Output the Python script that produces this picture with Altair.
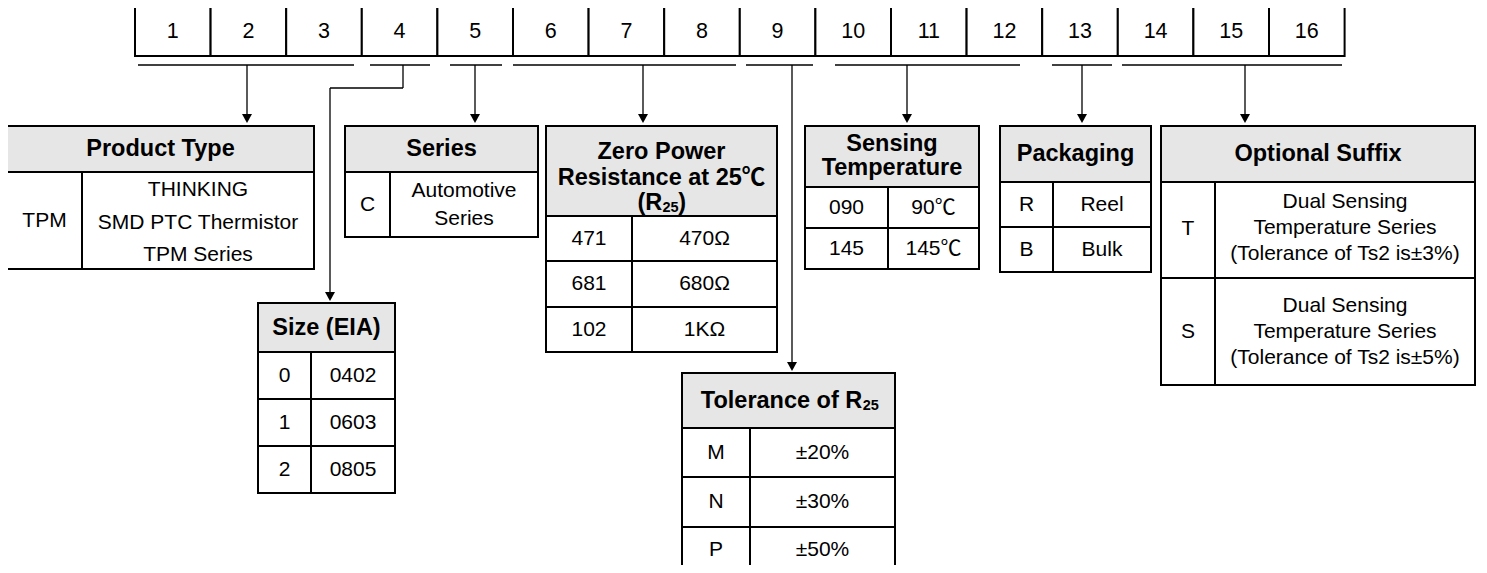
import altair as alt
import pandas as pd

# ---------------- content ----------------
DIGITS = [str(i) for i in range(1, 17)]

PRODUCT_TYPE_TITLE = ["Product Type"]
PRODUCT_TYPE_CODES = ["TPM"]
PRODUCT_TYPE_VALUES = [["THINKING", "SMD PTC Thermistor", "TPM Series"]]

SERIES_TITLE = ["Series"]
SERIES_CODES = ["C"]
SERIES_VALUES = [["Automotive", "Series"]]

SIZE_TITLE = ["Size (EIA)"]
SIZE_CODES = ["0", "1", "2"]
SIZE_VALUES = [["0402"], ["0603"], ["0805"]]

R25_TITLE = ["Zero Power", "Resistance at 25℃"]
R25_TITLE_SUB = ["(R", "25", ")"]
R25_CODES = ["471", "681", "102"]
R25_VALUES = [["470Ω"], ["680Ω"], ["1KΩ"]]

TOL_TITLE_SUB = ["Tolerance of R", "25"]
TOL_CODES = ["M", "N", "P"]
TOL_VALUES = [["±20%"], ["±30%"], ["±50%"]]

TEMP_TITLE = ["Sensing", "Temperature"]
TEMP_CODES = ["090", "145"]
TEMP_VALUES = [["90℃"], ["145℃"]]

PACK_TITLE = ["Packaging"]
PACK_CODES = ["R", "B"]
PACK_VALUES = [["Reel"], ["Bulk"]]

SUFFIX_TITLE = ["Optional Suffix"]
SUFFIX_CODES = ["T", "S"]
SUFFIX_VALUES = [
    ["Dual Sensing", "Temperature Series", "(Tolerance of Ts2 is±3%)"],
    ["Dual Sensing", "Temperature Series", "(Tolerance of Ts2 is±5%)"],
]

# ---------------- layout (reference pixel space) ----------------
CELL_X0, CELL_W, CELL_Y0, CELL_Y1 = 135, 75.6, 7, 56
UNDER_Y = 65
UNDERLINES = [(138, 354), (370, 430), (450, 502), (513, 736),
              (746, 813), (835, 1020), (1052, 1112), (1122, 1342)]
STRAIGHT_ARROWS = [247, 475, 643, 907, 1082, 1245]
TOP_TIP = 123
# elbow connector for digit 4 -> Size, and straight long one for 9 -> Tolerance
ELBOW = dict(x_top=403, y_mid=88, x_bot=330, tip=301)
LONG = dict(x=792, tip=371)

GEOM = {
    "pt": dict(x0=7, x1=314, y0=126, yh=172, y1=269, xd=82, rows=[],
               title_y=[149], code_y=[221], val_y=[[190, 222.5, 255]]),
    "series": dict(x0=345, x1=538, y0=126, yh=172, y1=237, xd=390, rows=[],
                   title_y=[149], code_y=[205], val_y=[[191, 219]]),
    "size": dict(x0=258, x1=395, y0=303, yh=352, y1=493, xd=311, rows=[399, 446],
                 title_y=[328], code_y=[375.5, 422.5, 469.5],
                 val_y=[[375.5], [422.5], [469.5]]),
    "r25": dict(x0=546, x1=777, y0=126, yh=216, y1=352, xd=632, rows=[261, 307],
                title_y=[152, 178], code_y=[238.5, 284, 329.5],
                val_y=[[238.5], [284], [329.5]]),
    "tol": dict(x0=682, x1=895, y0=373, yh=428, y1=600, xd=750, rows=[477, 527],
                title_y=[], code_y=[452.5, 502, 550], val_y=[[452.5], [502], [550]]),
    "temp": dict(x0=805, x1=979, y0=126, yh=187, y1=269, xd=888, rows=[228],
                 title_y=[144, 168], code_y=[207.5, 248.5], val_y=[[207.5], [248.5]]),
    "pack": dict(x0=1000, x1=1151, y0=126, yh=182, y1=272, xd=1053, rows=[227],
                 title_y=[154], code_y=[204.5, 249.5], val_y=[[204.5], [249.5]]),
    "suffix": dict(x0=1161, x1=1475, y0=126, yh=182, y1=385, xd=1215, rows=[278],
                   title_y=[154], code_y=[229, 332],
                   val_y=[[202, 228, 254], [306, 332, 358]]),
}

FS_REG, FS_BOLD, FS_SUB, FS_DIGIT = 21, 23.5, 14.5, 21.5
HEADER_FILL = "#e6e6e6"
FONT = "Liberation Sans, Arial, Noto Sans CJK SC, sans-serif"

rects, rules, heads = [], [], []
texts = {("normal", "center"): [], ("bold", "center"): [],
         ("bold", "right"): [], ("bold", "left"): []}


def add_text(x, y, t, fs, weight="normal", align="center"):
    texts[(weight, align)].append(dict(x=x, y=y, text=t, fs=fs))


# top digit cells
for i, d in enumerate(DIGITS):
    xa = CELL_X0 + CELL_W * i
    rects.append(dict(x=xa, x2=xa + CELL_W, y=CELL_Y0, y2=CELL_Y1, fill="white"))
    add_text(xa + CELL_W / 2, (CELL_Y0 + CELL_Y1) / 2, d, FS_DIGIT)

# underlines
for a, b in UNDERLINES:
    rules.append(dict(x=a, x2=b, y=UNDER_Y, y2=UNDER_Y, w=1.7))

# arrows
for ax in STRAIGHT_ARROWS:
    rules.append(dict(x=ax, x2=ax, y=UNDER_Y, y2=TOP_TIP - 3, w=1.3))
    heads.append(dict(x=ax, y=TOP_TIP - 5))
e = ELBOW
rules += [dict(x=e["x_top"], x2=e["x_top"], y=UNDER_Y, y2=e["y_mid"], w=1.3),
          dict(x=e["x_bot"], x2=e["x_top"], y=e["y_mid"], y2=e["y_mid"], w=1.3),
          dict(x=e["x_bot"], x2=e["x_bot"], y=e["y_mid"], y2=e["tip"] - 3, w=1.3)]
heads.append(dict(x=e["x_bot"], y=e["tip"] - 5))
rules.append(dict(x=LONG["x"], x2=LONG["x"], y=UNDER_Y, y2=LONG["tip"] - 3, w=1.3))
heads.append(dict(x=LONG["x"], y=LONG["tip"] - 5))


def table(g, title_lines, codes, values):
    rects.append(dict(x=g["x0"], x2=g["x1"], y=g["yh"], y2=g["y1"], fill="white"))
    rects.append(dict(x=g["x0"], x2=g["x1"], y=g["y0"], y2=g["yh"], fill=HEADER_FILL))
    rules.append(dict(x=g["xd"], x2=g["xd"], y=g["yh"], y2=g["y1"], w=2))
    for ry in g["rows"]:
        rules.append(dict(x=g["x0"], x2=g["x1"], y=ry, y2=ry, w=2))
    tx = (g["x0"] + g["x1"]) / 2
    for t, ty in zip(title_lines, g["title_y"]):
        add_text(tx, ty, t, FS_BOLD, "bold")
    cx = (g["x0"] + g["xd"]) / 2
    vx = (g["xd"] + g["x1"]) / 2
    for c, cy, vals, vys in zip(codes, g["code_y"], values, g["val_y"]):
        add_text(cx, cy, c, FS_REG)
        for v, vy in zip(vals, vys):
            add_text(vx, vy, v, FS_REG)


table(GEOM["pt"], PRODUCT_TYPE_TITLE, PRODUCT_TYPE_CODES, PRODUCT_TYPE_VALUES)
table(GEOM["series"], SERIES_TITLE, SERIES_CODES, SERIES_VALUES)
table(GEOM["size"], SIZE_TITLE, SIZE_CODES, SIZE_VALUES)
table(GEOM["r25"], R25_TITLE, R25_CODES, R25_VALUES)
table(GEOM["tol"], [], TOL_CODES, TOL_VALUES)
table(GEOM["temp"], TEMP_TITLE, TEMP_CODES, TEMP_VALUES)
table(GEOM["pack"], PACK_TITLE, PACK_CODES, PACK_VALUES)
table(GEOM["suffix"], SUFFIX_TITLE, SUFFIX_CODES, SUFFIX_VALUES)

# titles with subscripts
g = GEOM["r25"]
c = (g["x0"] + g["x1"]) / 2
add_text(c + 0.7, 203, R25_TITLE_SUB[0], FS_BOLD, "bold", "right")
add_text(c + 0.9, 208, R25_TITLE_SUB[1], FS_SUB, "bold", "left")
add_text(c + 16.8, 203, R25_TITLE_SUB[2], FS_BOLD, "bold", "left")
g = GEOM["tol"]
c = (g["x0"] + g["x1"]) / 2
add_text(c + 73.8, 401, TOL_TITLE_SUB[0], FS_BOLD, "bold", "right")
add_text(c + 74.3, 406, TOL_TITLE_SUB[1], FS_SUB, "bold", "left")

# ---------------- chart ----------------
XS = alt.Scale(domain=[8, 1479], nice=False, zero=False)
YS = alt.Scale(domain=[8, 565], nice=False, zero=False, reverse=True)


def X(f="x"):
    return alt.X(f"{f}:Q", scale=XS, axis=None)


def Y(f="y"):
    return alt.Y(f"{f}:Q", scale=YS, axis=None)


rect_layer = alt.Chart(pd.DataFrame(rects)).mark_rect(
    stroke="black", strokeWidth=2, clip=True
).encode(x=X(), x2="x2:Q", y=Y(), y2="y2:Q", fill=alt.Fill("fill:N", scale=None))

rule_layer = alt.Chart(pd.DataFrame(rules)).mark_rule(color="black", clip=True).encode(
    x=X(), x2="x2:Q", y=Y(), y2="y2:Q", strokeWidth=alt.StrokeWidth("w:Q", scale=None)
)

head_layer = alt.Chart(pd.DataFrame(heads)).mark_point(
    shape="M-1,-0.8L1,-0.8L0,1Z", filled=True, color="black", size=100, opacity=1,
    strokeWidth=0
).encode(x=X(), y=Y())

layers = [rect_layer, rule_layer, head_layer]
for (weight, align), rows in texts.items():
    if not rows:
        continue
    layers.append(
        alt.Chart(pd.DataFrame(rows)).mark_text(
            font=FONT, fontWeight=weight, align=align, baseline="middle", color="black"
        ).encode(x=X(), y=Y(), text="text:N", size=alt.Size("fs:Q", scale=None))
    )

chart = alt.layer(*layers).properties(
    width=1471, height=557, padding=0, autosize=alt.AutoSizeParams(type="none")
).configure_view(stroke=None)

chart.save("out.html", embed_options={"renderer": "svg", "actions": False})
